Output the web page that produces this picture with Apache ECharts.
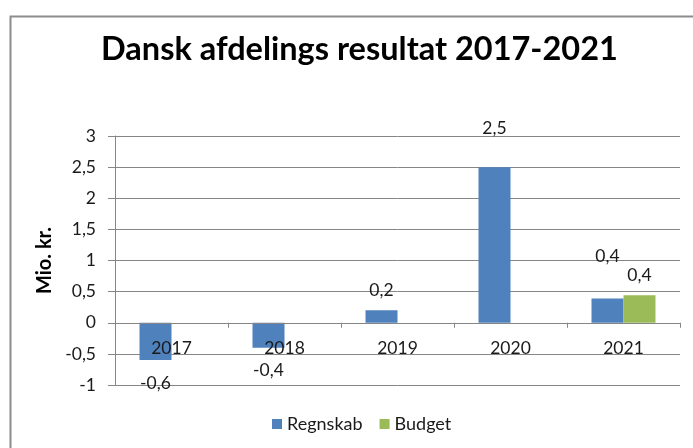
<!DOCTYPE html>
<html><head><meta charset="utf-8">
<script src="https://cdn.jsdelivr.net/npm/echarts@6/dist/echarts.min.js"></script>
<style>html,body{margin:0;padding:0;background:#fff}#c{width:693px;height:448px}</style>
</head><body><div id="c"></div>
<script>
const categories = ['2017','2018','2019','2020','2021'];
const regnskab = [-0.6, -0.4, 0.2, 2.5, 0.39];
const budget = [null, null, null, null, 0.44];
const yTicks = [-1, -0.5, 0, 0.5, 1, 1.5, 2, 2.5, 3];
const seriesNames = ['Regnskab', 'Budget'];

const FONT = 'Lato';
const fmt = v => Number(v).toFixed(1).replace('.', ',');
// label distances (style, kept separate from data)
const regGap = [14, 14, 11, 30, 33];
const budGap = [0, 0, 0, 0, 11];

function items(arr, gaps) {
  return arr.map((v, i) => v == null ? null : {
    value: v,
    label: { position: v < 0 ? 'bottom' : 'top', distance: gaps[i] }
  });
}

const chart = echarts.init(document.getElementById('c'));
const yMin = yTicks[0], yMax = yTicks[yTicks.length - 1];
const gridTop = 136, gridBottom = 63, gridH = 448 - gridTop - gridBottom;
// move category axis to the zero line
const zeroOffset = -gridH * (0 - yMin) / (yMax - yMin);

chart.setOption({
  animation: false,
  title: {
    text: 'Dansk afdelings resultat 2017-2021',
    left: 96, top: 28,
    textStyle: { fontFamily: FONT, fontWeight: 'bold', fontSize: 32.5, color: '#000' }
  },
  graphic: [{
    type: 'rect', left: 8, top: 14,
    shape: { width: 720, height: 480 },
    style: { fill: 'none', stroke: '#8c8c8c', lineWidth: 2 }
  }],
  legend: {
    data: seriesNames, bottom: 10, left: 267,
    icon: 'rect', itemWidth: 10, itemHeight: 10, itemGap: 17,
    textStyle: { fontFamily: FONT, fontSize: 18, color: '#1a1a1a' }
  },
  grid: { left: 115, right: 13, top: gridTop, bottom: gridBottom },
  xAxis: {
    type: 'category', data: categories,
    offset: zeroOffset,
    axisLine: { onZero: false, lineStyle: { color: '#868686', width: 1 } },
    axisTick: { show: true, length: 5, lineStyle: { color: '#868686' } },
    axisLabel: { margin: 17, fontFamily: FONT, fontSize: 17.5, color: '#1a1a1a' },
    z: 5
  },
  yAxis: {
    type: 'value', min: yMin, max: yMax, interval: 0.5,
    name: 'Mio. kr.', nameLocation: 'middle', nameGap: 56, nameRotate: 90,
    nameTextStyle: { fontFamily: FONT, fontWeight: 'bold', fontSize: 20, color: '#000' },
    axisLine: { show: true, lineStyle: { color: '#868686', width: 1 } },
    axisTick: { show: true, length: 7, lineStyle: { color: '#868686' } },
    splitLine: { lineStyle: { color: '#868686', width: 1 } },
    axisLabel: { margin: 19, fontFamily: FONT, fontSize: 17.5, color: '#1a1a1a', formatter: v => String(v).replace('.', ',') }
  },
  series: [
    {
      name: seriesNames[0], type: 'bar', data: items(regnskab, regGap),
      barWidth: 32, barGap: '0%',
      itemStyle: { color: '#4F81BD' },
      label: { show: true, fontFamily: FONT, fontSize: 17.5, color: '#1a1a1a', formatter: p => fmt(p.value) }
    },
    {
      name: seriesNames[1], type: 'bar', data: items(budget, budGap),
      barWidth: 32, barGap: '0%',
      itemStyle: { color: '#9BBB59' },
      label: { show: true, fontFamily: FONT, fontSize: 17.5, color: '#1a1a1a', formatter: p => fmt(p.value) }
    }
  ]
});
</script></body></html>
